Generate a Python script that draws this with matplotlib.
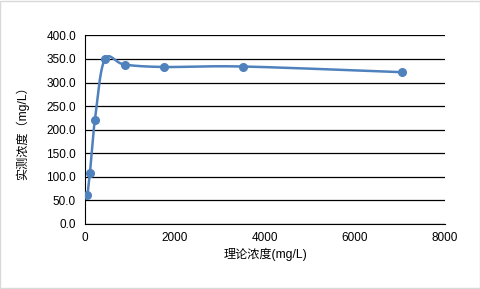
import numpy as np
import matplotlib
matplotlib.use('Agg')
import matplotlib.pyplot as plt
from matplotlib.patches import Rectangle

plt.rcParams['font.family'] = ['Liberation Sans', 'Noto Sans CJK SC', 'DejaVu Sans']

# theoretical vs measured concentration
theory = [55, 110, 220, 440, 880, 1760, 3520, 7040]
measured = [61, 109, 221, 349, 338, 333, 334, 322]
yticks = [0, 50, 100, 150, 200, 250, 300, 350, 400]
xticks = [0, 2000, 4000, 6000, 8000]


def smooth_path(xs, ys, sx, sy, n=30):
    # excel-like smoothed line: bezier through points, control points from neighbours
    px = np.array(xs, float) / sx
    py = np.array(ys, float) / sy
    outx, outy = [], []
    t = np.linspace(0, 1, n)
    for i in range(len(px) - 1):
        p0 = np.array([px[max(i - 1, 0)], py[max(i - 1, 0)]])
        p1 = np.array([px[i], py[i]])
        p2 = np.array([px[i + 1], py[i + 1]])
        p3 = np.array([px[min(i + 2, len(px) - 1)], py[min(i + 2, len(px) - 1)]])
        c1 = p1 + (p2 - p0) / 6
        c2 = p2 - (p3 - p1) / 6
        b = ((1 - t) ** 3)[:, None] * p1 + (3 * (1 - t) ** 2 * t)[:, None] * c1 \
            + (3 * (1 - t) * t ** 2)[:, None] * c2 + (t ** 3)[:, None] * p2
        outx.extend(b[:, 0] * sx)
        outy.extend(b[:, 1] * sy)
    return outx, outy


fig = plt.figure(figsize=(4.81, 2.89), dpi=100)
fig.patches.append(Rectangle((0.001, 0.002), 0.997, 0.995, transform=fig.transFigure,
                             fill=False, edgecolor='#d9d9d9', linewidth=1))
ax = fig.add_axes([85 / 481, 1 - 224 / 289, 360 / 481, 188.6 / 289])

# scale so smoothing is done roughly in screen space
cx, cy = smooth_path(theory, measured, 8000 / 360, 400 / 188.6)
ax.plot(cx, cy, color='#4f81bd', linewidth=1.8, zorder=3)
ax.plot(theory, measured, 'o', color='#4f81bd', markersize=5.5, zorder=4)

ax.set_xlim(0, 8000)
ax.set_ylim(0, 400)
ax.set_xticks(xticks)
ax.set_yticks(yticks)
ax.set_yticklabels([f'{v:.1f}' for v in yticks])
ax.yaxis.grid(True, color='black', linewidth=0.9)
ax.set_axisbelow(True)
ax.tick_params(length=0, labelsize=8.5)
ax.tick_params(axis='x', pad=6)
ax.tick_params(axis='y', pad=6.5)
for s in ['top', 'right']:
    ax.spines[s].set_visible(False)
ax.spines['left'].set_color('black')
ax.spines['bottom'].set_color('black')

ax.set_xlabel('理论浓度(mg/L)', fontsize=8.7, va='center')
ax.xaxis.set_label_coords(0.5, -0.159)
ax.set_ylabel('实测浓度（mg/L）', fontsize=8.7, va='center', ha='center')
ax.yaxis.set_label_coords(-0.175, 0.5)

fig.savefig('out.png', dpi=100)
